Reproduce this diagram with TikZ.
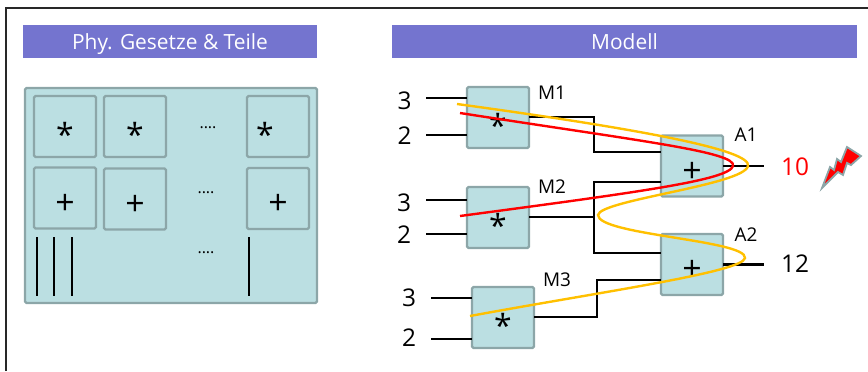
\documentclass[tikz,border=0pt]{standalone}
\usepackage{fontspec}
\setmainfont{Open Sans}
\usetikzlibrary{calc}
\definecolor{hdr}{RGB}{116,116,207}
\definecolor{bfill}{RGB}{187,223,226}
\definecolor{bdraw}{RGB}{140,166,168}
\definecolor{yel}{RGB}{255,192,0}
\definecolor{frame}{RGB}{40,40,40}
\begin{document}
\begin{tikzpicture}[x=1bp,y=-1bp,
  hdrbox/.style={fill=hdr, text=white, font=\fontsize{21}{24}\selectfont, inner sep=0, minimum height=33bp, text height=15bp, text depth=0bp},
  panel/.style={draw=bdraw, fill=bfill, line width=2.2bp, rounded corners=1.5bp},
  mbox/.style={draw=bdraw, fill=bfill, line width=2.2bp, minimum width=62bp, minimum height=61bp, inner sep=0, rounded corners=1.5bp},
  starbox/.style={mbox, font=\fontsize{32}{36}\selectfont, text height=40bp, text depth=0bp},
  plusbox/.style={mbox, font=\fontsize{34}{40}\selectfont, text height=32bp, text depth=0bp},
  dots/.style={font=\fontsize{16}{18}\selectfont, inner sep=0},
  num/.style={font=\fontsize{24.5}{28}\selectfont, inner sep=0},
  lbl/.style={font=\fontsize{19}{22}\selectfont, inner sep=0},
  wire/.style={line width=2.4bp, line cap=rect},
  bar/.style={line width=2.3bp},
  redc/.style={draw=red, line width=2.4bp},
  yelc/.style={draw=yel, line width=2.4bp}
]
\useasboundingbox (0,0) rectangle (868,371);
% frame
\draw[frame, line width=1.3bp] (6,371) -- (6,8) -- (868,8);
% headers
\node[hdrbox, minimum width=294bp] (h1) at (170,41.5) {Phy. Gesetze \& Teile};
\node[hdrbox, minimum width=465bp] (h2) at (624.5,41.5) {Modell};
% left panel
\draw[panel] (25,88) rectangle (317,303);
\node[starbox] (p11) at (65,126.5) {*};
\node[starbox] (p12) at (135,126.5) {*};
\node[starbox] (p13) at (278,126.5) {*\hspace{26bp}\mbox{}};
\node[plusbox] (p21) at (65,198) {+};
\node[plusbox] (p22) at (135,199) {+};
\node[plusbox] (p23) at (278,198.5) {+};
\node[dots] (d1) at (208,128) {....};
\node[dots] (d2) at (206,193) {....};
\node[dots] (d3) at (206,253) {....};
\draw[bar] (37,237) -- (37,296);
\draw[bar] (54,237) -- (54,296);
\draw[bar] (72,237) -- (72,296);
\draw[bar] (249,237) -- (249,296);
% model boxes
\node[starbox] (M1) at (498,117.5) {*};
\node[starbox] (M2) at (498,217.5) {*};
\node[starbox] (M3) at (503,317.5) {*};
\node[plusbox] (A1) at (692,166) {+};
\node[plusbox] (A2) at (692,264.5) {+};
\node[lbl] (lM1) at (552,93) {M1};
\node[lbl] (lM2) at (552,187) {M2};
\node[lbl] (lM3) at (557,280) {M3};
\node[lbl] (lA1) at (746,135) {A1};
\node[lbl] (lA2) at (746,235) {A2};
% inputs
\node[num] (n1a) at (404.5,100.5) {3};
\node[num] (n1b) at (404.5,135.5) {2};
\node[num] (n2a) at (404,202.5) {3};
\node[num] (n2b) at (404,235) {2};
\node[num] (n3a) at (409,297.5) {3};
\node[num] (n3b) at (409,337.5) {2};
\coordinate (i1a) at (427,98);
\coordinate (i1b) at (427,135);
\coordinate (i2a) at (427,200);
\coordinate (i2b) at (427,234);
\coordinate (i3a) at (432,298);
\coordinate (i3b) at (432,339);
\foreach \c/\m in {i1a/M1,i1b/M1,i2a/M2,i2b/M2,i3a/M3,i3b/M3}
  \draw[wire] (\c) -- (\c -| \m.west);
% wiring
\coordinate (j1) at (594,117);
\coordinate (j2) at (594,217);
\coordinate (j3) at (597,317);
\draw[wire] (M1.east |- j1) -- (j1) |- ($(A1.west)+(0,-14)$);
\draw[wire] (M2.east |- j2) -- (j2);
\draw[wire] ($(A1.west)+(0,16)$) -| (j2) |- ($(A2.west)+(0,-11.5)$);
\draw[wire] (M3.east |- j3) -- (j3) |- ($(A2.west)+(0,15.5)$);
% outputs
\node[num, anchor=west, text=red, inner xsep=18bp] (o1) at (763,167) {10};
\node[num, anchor=west, inner xsep=18bp] (o2) at (763,264) {12};
\draw[wire] (A1.east) -- (A1.east -| o1.west);
\draw[wire] (A2.east) -- (A2.east -| o2.west);
% curves
\draw[redc] (460,113) .. controls (640,141) and (737,152) .. (733,166)
  .. controls (729,180) and (640,192) .. (460,216);
\draw[yelc] (457,104) .. controls (640,129) and (752,150) .. (748,166)
  .. controls (744,185) and (600,200) .. (598,215)
  .. controls (598,235) and (747,240) .. (745,258)
  .. controls (743,272) and (600,292) .. (470,316);
% lightning
\draw[draw=bdraw, fill=red, line width=1.8bp, line join=miter]
  (822,188) -- (830,167) -- (834,170) -- (837,159) -- (841,162) -- (847,147)
  -- (861,156) -- (851,165) -- (847,163) -- (843,175) -- (838,172) -- cycle;
\end{tikzpicture}
\end{document}
